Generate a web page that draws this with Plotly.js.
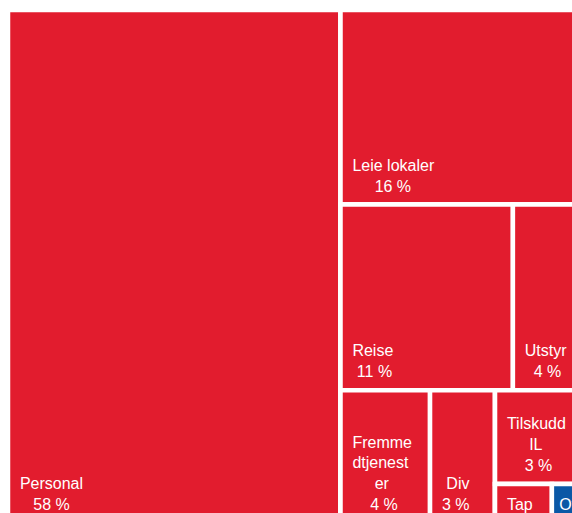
<!DOCTYPE html>
<html>
<head>
<meta charset="utf-8">
<script src="https://cdn.plot.ly/plotly-3.0.1.min.js"></script>
<style>
html, body { margin: 0; padding: 0; overflow: hidden; background: #fff; }
#chart { width: 600px; height: 540px; }
</style>
</head>
<body>
<div id="chart"></div>
<script>
// ---- data ----
// Helper group nodes (empty label) reproduce the reference's slice/dice tile arrangement
const ids     = ['Personal', 'Høyre', 'Leie', 'Rad2', 'Reise', 'Utstyr', 'Rad3', 'Fremmed', 'Div', 'Kol3', 'Tilskudd', 'Rad4', 'Tap', 'Annet'];
const labels  = ['Personal', '', 'Leie lokaler', '', 'Reise', 'Utstyr', '', 'Fremmedtjenester', 'Div', '', 'Tilskudd IL', '', 'Tap', 'Other'];
const parents = ['', '', 'Høyre', 'Høyre', 'Rad2', 'Rad2', 'Høyre', 'Rad3', 'Rad3', 'Rad3', 'Kol3', 'Kol3', 'Rad4', 'Rad4'];
const values  = [58.1, 0, 16, 0, 10.9, 4.37, 0, 4.05, 2.94, 0, 2.78, 0, 0.755, 0.40];
const pct     = ['58', '', '16', '', '11', '4', '', '4', '3', '', '3', '', '1', '0'];
// label as wrapped in the reference tiles
const labelLines = [['Personal'], [], ['Leie lokaler'], [], ['Reise'], ['Utstyr'], [],
                    ['Fremme', 'dtjenest', 'er'], ['Div'], [], ['Tilskudd', 'IL'], [], ['Tap'], ['Other']];

// ---- style ----
// per-line indents (in spaces) to centre the lines of each label block
const indents = [[0, 3], [], [0, 5], [], [0, 1], [0, 2], [], [0, 0, 5, 4], [1, 0], [], [0, 5, 4], [], [0], [0]];
const leftPad = [2, 0, 2, 0, 2, 2, 0, 2, 2, 0, 2, 0, 2, 1];
// the two smallest tiles are too short for their percentage line (cut off in the reference)
const pctShown = [true, false, true, false, true, true, false, true, true, false, true, false, false, false];
const NB = '\u00A0';
const RED = '#E21C2E';
const BLUE = '#0A58A6';

const isGroup = labels.map(l => l === '');
const tileText = ids.map((id, i) => {
  if (isGroup[i]) return '';
  const lines = labelLines[i].concat(pctShown[i] ? [pct[i] + ' %'] : []);
  return lines.map((ln, k) => NB.repeat(leftPad[i] + (indents[i][k] || 0)) + ln).join('<br>') +
         '<span style="font-size:46px">' + NB + '</span>';
});
const colors = ids.map(id => id === 'Annet' ? BLUE : RED);

Plotly.newPlot('chart', [{
  type: 'treemap',
  ids: ids,
  labels: labels,
  parents: parents,
  values: values,
  text: tileText,
  branchvalues: 'remainder',
  sort: false,
  texttemplate: '%{text}',
  textposition: 'bottom left',
  textfont: { family: 'Liberation Sans, Arial, sans-serif', size: 16, color: '#ffffff' },
  hoverinfo: 'none',
  tiling: { packing: 'slice-dice', pad: 0 },
  pathbar: { visible: false },
  marker: {
    colors: colors,
    depthfade: false,
    pad: { t: 0, l: 0, r: 0, b: 0 },
    line: { color: '#ffffff', width: 4.5 }
  }
}], {
  width: 600,
  height: 540,
  margin: { l: 8, r: 18, t: 10, b: 17 },
  paper_bgcolor: '#ffffff',
  uniformtext: { mode: 'show', minsize: 16 },
  showlegend: false
}, { displayModeBar: false, staticPlot: true });
</script>
</body>
</html>
